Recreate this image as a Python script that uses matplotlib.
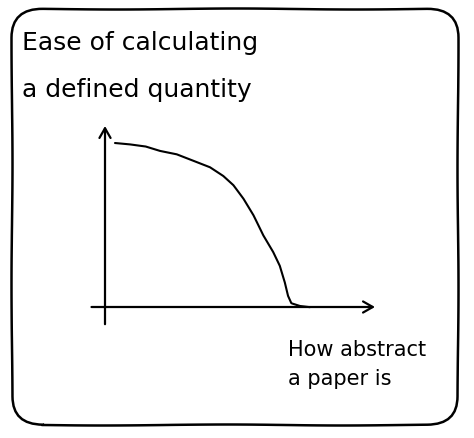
import matplotlib
matplotlib.use("Agg")
import matplotlib.pyplot as plt
from matplotlib.patches import FancyBboxPatch

# curve (x = abstractness, y = ease), axes run 0..10
abstractness = [0.37, 0.93, 1.51, 2.04, 2.66, 3.27, 3.89, 4.38, 4.75, 5.12,
                5.49, 5.86, 6.23, 6.48, 6.67, 6.79, 6.91, 7.22, 7.59]
ease = [9.06, 8.99, 8.88, 8.64, 8.45, 8.09, 7.72, 7.23, 6.72, 5.97,
        5.06, 3.95, 3.04, 2.28, 1.36, 0.62, 0.22, 0.07, 0.0]

y_label = "Ease of calculating\na defined quantity"
x_label = "How abstract\na paper is"

W, H = 474, 439

fig = plt.figure(figsize=(W / 100, H / 100), dpi=100)
fig.patch.set_facecolor("white")

# hand drawn panel border
border = FancyBboxPatch((12 / W, 1 - 426 / H), 446 / W, 416 / H,
                        boxstyle="round,pad=0,rounding_size=0.065",
                        transform=fig.transFigure, fill=False,
                        linewidth=1.8, edgecolor="black")
border.set_sketch_params(0.5, 250, 1.5)
fig.patches.append(border)

ax = fig.add_axes([105 / W, 1 - 308 / H, 270 / W, 181 / H])
ax.set_xlim(0, 10)
ax.set_ylim(0, 10)
ax.axis("off")

arrow = dict(arrowstyle="->,head_length=0.7,head_width=0.4", lw=1.6, color="black",
             shrinkA=0, shrinkB=0)
ax.annotate("", xy=(10, 0), xytext=(-0.5, 0), arrowprops=arrow, annotation_clip=False)
ax.annotate("", xy=(0, 10), xytext=(0, -0.95), arrowprops=arrow, annotation_clip=False)

line, = ax.plot(abstractness, ease, color="black", lw=1.5, solid_capstyle="round",
                solid_joinstyle="round", clip_on=False)
line.set_sketch_params(0.3, 200, 1.5)

fig.text(22 / W, 1 - 97 / H, y_label, ha="left", va="baseline", fontsize=18,
         linespacing=2.2)
fig.text(288 / W, 1 - 385 / H, x_label, ha="left", va="baseline", fontsize=15,
         linespacing=1.55)

fig.savefig("out.png", dpi=100, facecolor="white")
